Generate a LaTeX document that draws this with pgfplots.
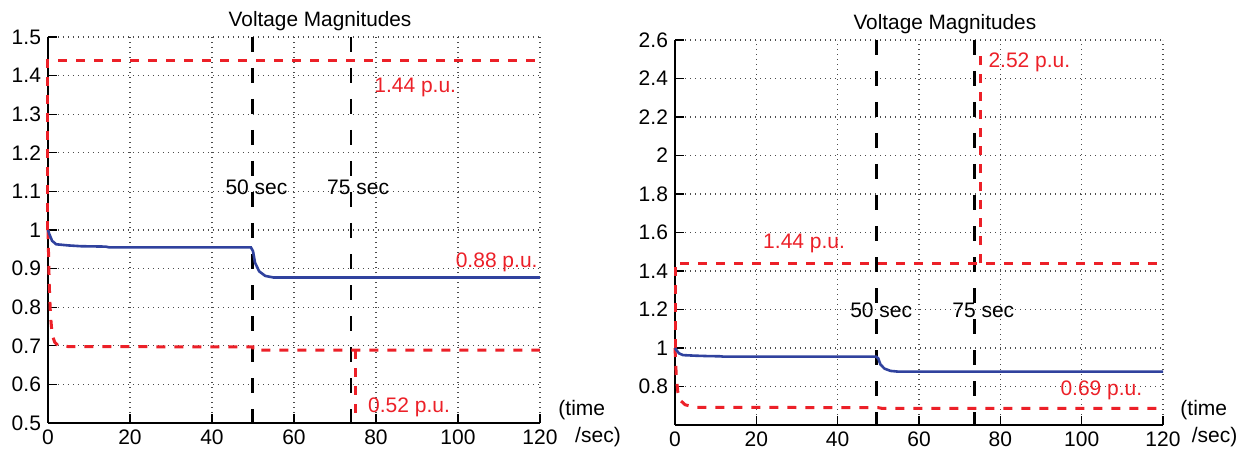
\documentclass[border=0pt]{standalone}
\usepackage{pgfplots}
\pgfplotsset{compat=1.18}
\usepackage{fontspec}
\setmainfont{Liberation Sans}
\definecolor{vred}{RGB}{236,32,40}
\definecolor{vblue}{RGB}{48,66,158}

\pgfplotsset{vstyle/.style={
    scale only axis,
    axis x line*=bottom, axis y line*=left,
    axis line style={line width=1.4pt, black},
    xmin=0, xmax=120, xtick={0,20,...,120},
    grid=major,
    major grid style={line width=0.55pt, black!70, dash pattern=on 0.6pt off 1.9pt},
    tick style={black, line width=0.6pt}, tick align=inside,
    ticklabel style={font=\fontsize{10.5}{12}\selectfont},
    /pgf/number format/assume math mode=true,
    clip=false,
    title=Voltage Magnitudes,
    title style={font=\fontsize{10.4}{12}\selectfont, at={(0.553,1)}, anchor=base, yshift=-1pt},
  },
  redd/.style={vred, line width=1.5pt, dash pattern=on 4.5pt off 4.5pt},
  blkd/.style={black, line width=1.4pt, dash pattern=on 7.5pt off 8pt},
  blu/.style={vblue, line width=1.3pt},
}
\tikzset{lbl/.style={font=\fontsize{10.5}{12}\selectfont, anchor=west, inner sep=0pt}}

\begin{document}
\begin{tikzpicture}
\useasboundingbox (0,0) rectangle (622pt,225pt);

% left panel
\begin{axis}[vstyle, at={(24pt,13.5pt)}, anchor=south west,
    width=246pt, height=193pt,
    ymin=0.5, ymax=1.5, ytick={0.5,0.6,...,1.5}]
  \addplot[blkd] coordinates {(49.8,1.5) (49.8,0.5)};
  \addplot[blkd] coordinates {(73.9,1.5) (73.9,0.5)};
  \addplot[redd] coordinates {(0,1.0) (0,1.44) (120,1.44)};
  \addplot[redd] coordinates {(0,1.0) (0.3,0.86) (0.6,0.78) (1,0.73) (1.6,0.71) (2.5,0.70) (5,0.698) (50,0.697) (50,0.689) (120,0.689)};
  \addplot[redd] coordinates {(74.9,0.689) (74.9,0.52)};
  \addplot[blu] coordinates {(0,1.0) (0.3,0.99) (1,0.972) (2,0.963) (5,0.96) (8,0.958) (14,0.957) (15,0.955) (49.5,0.955) (50,0.945) (50.5,0.915) (51.5,0.893) (53,0.881) (55,0.877) (120,0.877)};
  \node[lbl, text=vred] at (axis cs:79.5,1.37) {1.44 p.u.};
  \node[lbl, text=vred, anchor=east] at (axis cs:119.5,0.917) {0.88 p.u.};
  \node[lbl, text=vred] at (axis cs:78,0.541) {0.52 p.u.};
  \node[lbl] at (axis cs:43.2,1.111) {50 sec};
  \node[lbl] at (axis cs:68,1.111) {75 sec};
  \node[lbl] at (axis cs:124.4,0.534) {(time};
  \node[lbl] at (axis cs:128.5,0.464) {/sec)};
\end{axis}

% right panel
\begin{axis}[vstyle, at={(337.5pt,12.5pt)}, anchor=south west,
    width=244pt, height=192.5pt,
    ymin=0.6, ymax=2.6, ytick={0.8,1,...,2.6}]
  \addplot[blkd] coordinates {(49.6,2.6) (49.6,0.6)};
  \addplot[blkd] coordinates {(73.7,2.6) (73.7,0.6)};
  \addplot[redd] coordinates {(0,1.0) (0,1.44) (120,1.44)};
  \addplot[redd] coordinates {(75,1.44) (75,2.52)};
  \addplot[redd] coordinates {(0,1.0) (0.3,0.86) (0.7,0.77) (1.2,0.73) (2.5,0.705) (5,0.692) (50,0.69) (51,0.686) (120,0.686)};
  \addplot[blu] coordinates {(0,1.0) (0.3,0.99) (1,0.972) (2,0.963) (5,0.96) (8,0.958) (11,0.957) (12,0.955) (49.5,0.955) (50,0.945) (50.5,0.915) (51.5,0.893) (53,0.881) (55,0.877) (120,0.877)};
  \node[lbl, text=vred] at (axis cs:77,2.486) {2.52 p.u.};
  \node[lbl, text=vred] at (axis cs:21.6,1.545) {1.44 p.u.};
  \node[lbl, text=vred] at (axis cs:94.7,0.782) {0.69 p.u.};
  \node[lbl] at (axis cs:43,1.197) {50 sec};
  \node[lbl] at (axis cs:68.1,1.197) {75 sec};
  \node[lbl] at (axis cs:124.2,0.678) {(time};
  \node[lbl] at (axis cs:127,0.538) {/sec)};
\end{axis}
\end{tikzpicture}
\end{document}
